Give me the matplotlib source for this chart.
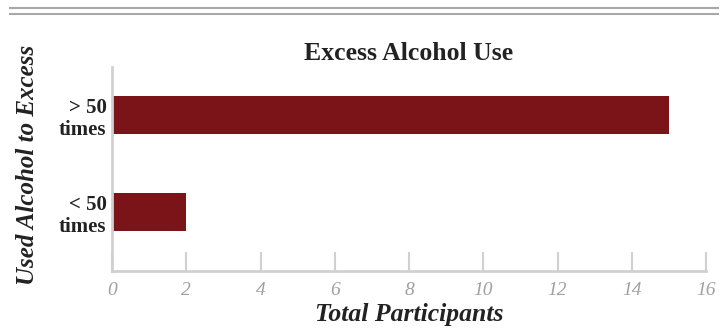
import matplotlib.pyplot as plt
from matplotlib.lines import Line2D

categories = ["< 50\ntimes", "> 50\ntimes"]
participants = [2, 15]
xticks = [0, 2, 4, 6, 8, 10, 12, 14, 16]

plt.rcParams['font.family'] = ['Liberation Serif', 'DejaVu Serif']

fig = plt.figure(figsize=(7.28, 3.29), dpi=100)
ax = fig.add_axes([112 / 728, 58 / 329, 594 / 728, 204 / 329])

ax.barh(range(len(categories)), participants, height=0.39, color='#7b1418')

ax.set_xlim(0, 16)
ax.set_ylim(-0.608, 1.495)
ax.set_xticks(xticks)
ax.set_xticklabels([str(t) for t in xticks], fontsize=14, style='italic', color='#a0a0a0')
ax.set_yticks(range(len(categories)))
ax.set_yticklabels(categories, fontsize=15, fontweight='bold', color='#222222', linespacing=1.15)

for s in ['top', 'right']:
    ax.spines[s].set_visible(False)
for s in ['left', 'bottom']:
    ax.spines[s].set_color('#d0d0d0')
    ax.spines[s].set_linewidth(2)
ax.tick_params(axis='x', direction='in', length=14, width=1.5, color='#d0d0d0', pad=8)
ax.tick_params(axis='y', length=0, pad=4)

ax.set_title("Excess Alcohol Use", fontsize=18.5, fontweight='bold', color='#222222', pad=5)
ax.set_xlabel("Total Participants", fontsize=18.5, fontweight='bold', style='italic', color='#222222', labelpad=3)
fig.text(28 / 728, 164 / 329, "Used Alcohol to Excess", rotation=90, ha='center', va='center',
         fontsize=18, fontweight='bold', style='italic', color='#222222')

# double rule at top
for y in [321.5 / 329, 315 / 329]:
    fig.add_artist(Line2D([10 / 728, 718 / 728], [y, y], color='#a8a8a8', lw=1.5))

fig.savefig('out.png', dpi=100)
